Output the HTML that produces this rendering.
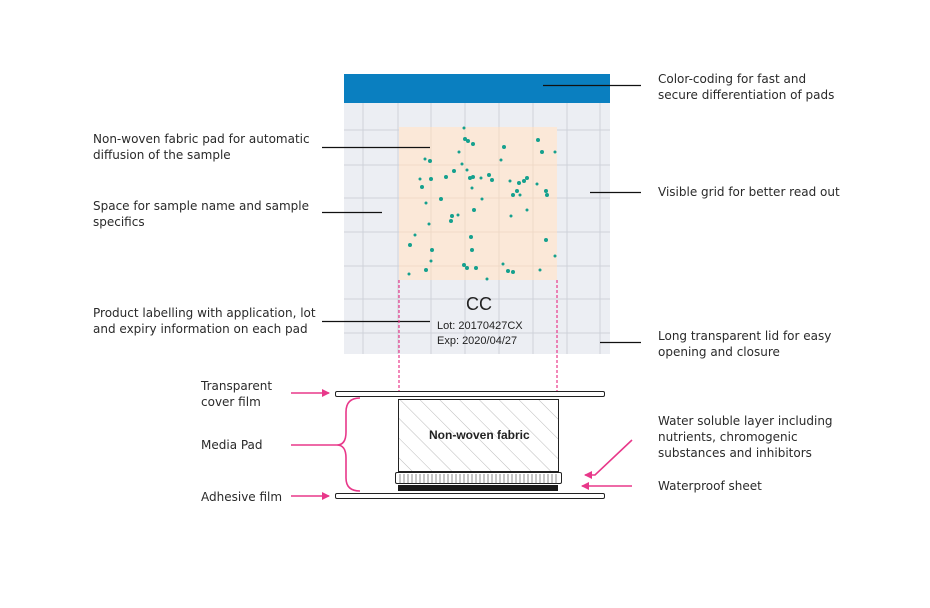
<!DOCTYPE html>
<html><head><meta charset="utf-8"><style>
body{margin:0;background:#fff;width:930px;height:608px;overflow:hidden;position:relative;font-family:"DejaVu Sans","Liberation Sans",sans-serif;}
.t{position:absolute;font-size:12px;line-height:16px;color:#2a2a2a;}
</style></head><body>
<svg width="930" height="608" style="position:absolute;left:0;top:0">
<defs>
<pattern id="hatch" width="14" height="14" patternUnits="userSpaceOnUse" patternTransform="rotate(-45)">
<line x1="0" y1="0" x2="0" y2="14" stroke="#aaa" stroke-width="0.8"/></pattern>
<marker id="ah" markerWidth="8" markerHeight="8" refX="7" refY="4" orient="auto" markerUnits="userSpaceOnUse"><path d="M0,0 L8,4 L0,8 z" fill="#e8388a"/></marker>
</defs>
<rect x="344" y="74" width="266" height="280" fill="#eceef3"/>
<g stroke="#cfd2da" stroke-width="1">
<line x1="363" y1="103" x2="363" y2="354"/><line x1="398" y1="103" x2="398" y2="354"/><line x1="431" y1="103" x2="431" y2="354"/><line x1="465" y1="103" x2="465" y2="354"/><line x1="499" y1="103" x2="499" y2="354"/><line x1="533" y1="103" x2="533" y2="354"/><line x1="567" y1="103" x2="567" y2="354"/><line x1="600" y1="103" x2="600" y2="354"/>
<line x1="344" y1="130" x2="610" y2="130"/><line x1="344" y1="165" x2="610" y2="165"/><line x1="344" y1="198" x2="610" y2="198"/><line x1="344" y1="232" x2="610" y2="232"/><line x1="344" y1="266" x2="610" y2="266"/><line x1="344" y1="299" x2="610" y2="299"/><line x1="344" y1="333" x2="610" y2="333"/>
</g>
<rect x="344" y="74" width="266" height="29" fill="#0a7fc0"/>
<rect x="399" y="127" width="158" height="153" fill="#fbe8d8"/>
<g stroke="#ecd6c4" stroke-width="0.8">
<line x1="431" y1="127" x2="431" y2="280"/><line x1="465" y1="127" x2="465" y2="280"/><line x1="499" y1="127" x2="499" y2="280"/><line x1="533" y1="127" x2="533" y2="280"/>
<line x1="399" y1="165" x2="557" y2="165"/><line x1="399" y1="198" x2="557" y2="198"/><line x1="399" y1="232" x2="557" y2="232"/><line x1="399" y1="266" x2="557" y2="266"/>
</g>
<g fill="#15a08e">
<circle cx="464" cy="128" r="1.5"/><circle cx="465" cy="139" r="2"/><circle cx="468" cy="141" r="2"/><circle cx="473" cy="144" r="2"/><circle cx="538" cy="140" r="2"/><circle cx="504" cy="147" r="2"/><circle cx="542" cy="152" r="2"/><circle cx="555" cy="152" r="1.5"/><circle cx="459" cy="152" r="1.5"/><circle cx="425" cy="159" r="1.5"/><circle cx="430" cy="161" r="2"/><circle cx="501" cy="160" r="1.5"/><circle cx="462" cy="164" r="1.5"/><circle cx="454" cy="171" r="2"/><circle cx="467" cy="170" r="1.5"/><circle cx="446" cy="177" r="2"/><circle cx="470" cy="178" r="2"/><circle cx="473" cy="177" r="2"/><circle cx="481" cy="178" r="1.5"/><circle cx="489" cy="175" r="2"/><circle cx="492" cy="180" r="2"/><circle cx="510" cy="181" r="1.5"/><circle cx="524" cy="181" r="2"/><circle cx="527" cy="178" r="2"/><circle cx="519" cy="183" r="2"/><circle cx="537" cy="184" r="1.5"/><circle cx="420" cy="179" r="1.5"/><circle cx="431" cy="179" r="2"/><circle cx="422" cy="187" r="2"/><circle cx="472" cy="188" r="1.5"/><circle cx="517" cy="191" r="2"/><circle cx="513" cy="195" r="2"/><circle cx="520" cy="195" r="1.5"/><circle cx="546" cy="191" r="2"/><circle cx="547" cy="195" r="2"/><circle cx="441" cy="199" r="2"/><circle cx="426" cy="203" r="1.5"/><circle cx="482" cy="199" r="1.5"/><circle cx="474" cy="210" r="2"/><circle cx="527" cy="210" r="1.5"/><circle cx="452" cy="216" r="2"/><circle cx="458" cy="215" r="1.5"/><circle cx="451" cy="221" r="2"/><circle cx="511" cy="216" r="1.5"/><circle cx="429" cy="224" r="1.5"/><circle cx="415" cy="235" r="1.5"/><circle cx="471" cy="237" r="2"/><circle cx="546" cy="240" r="2"/><circle cx="410" cy="245" r="2"/><circle cx="432" cy="250" r="2"/><circle cx="472" cy="250" r="2"/><circle cx="555" cy="256" r="1.5"/><circle cx="431" cy="261" r="1.5"/><circle cx="464" cy="265" r="2"/><circle cx="467" cy="268" r="2"/><circle cx="476" cy="268" r="2"/><circle cx="426" cy="270" r="2"/><circle cx="503" cy="264" r="1.5"/><circle cx="508" cy="271" r="2"/><circle cx="513" cy="272" r="2"/><circle cx="540" cy="270" r="1.5"/><circle cx="409" cy="274" r="1.5"/><circle cx="487" cy="279" r="1.5"/>
</g>
<g stroke="#111" stroke-width="1.2">
<line x1="543" y1="85.5" x2="641" y2="85.5"/><line x1="322" y1="147.5" x2="430" y2="147.5"/><line x1="322" y1="212.5" x2="382" y2="212.5"/><line x1="590" y1="192.5" x2="641" y2="192.5"/><line x1="322" y1="321.5" x2="430" y2="321.5"/><line x1="600" y1="342.5" x2="641" y2="342.5"/>
</g>
<g stroke="#e8388a" stroke-width="1.2" stroke-dasharray="3,2">
<line x1="399" y1="280" x2="399" y2="391"/><line x1="557" y1="280" x2="557" y2="391"/>
</g>
<rect x="335.5" y="391.5" width="269" height="5" rx="1.5" fill="#fff" stroke="#222"/>
<rect x="398.5" y="399.5" width="160" height="72" fill="url(#hatch)" stroke="#222"/>
<rect x="395.5" y="472.5" width="166" height="11" rx="1.5" fill="#fff" stroke="#222"/>
<g stroke="#444" stroke-width="0.6">
<path d="M400,474v9M404,474v9M408,474v9M412,474v9M416,474v9M420,474v9M424,474v9M428,474v9M432,474v9M436,474v9M440,474v9M444,474v9M448,474v9M452,474v9M456,474v9M460,474v9M464,474v9M468,474v9M472,474v9M476,474v9M480,474v9M484,474v9M488,474v9M492,474v9M496,474v9M500,474v9M504,474v9M508,474v9M512,474v9M516,474v9M520,474v9M524,474v9M528,474v9M532,474v9M536,474v9M540,474v9M544,474v9M548,474v9M552,474v9M556,474v9"/>
</g>
<rect x="398" y="485" width="160" height="6" fill="#1a1a1a"/>
<rect x="335.5" y="493.5" width="269" height="5" rx="1.5" fill="#fff" stroke="#222"/>
<g stroke="#e8388a" stroke-width="1.6" fill="none">
<line x1="291" y1="393" x2="329" y2="393" marker-end="url(#ah)"/>
<line x1="291" y1="496" x2="329" y2="496" marker-end="url(#ah)"/>
<line x1="291" y1="445" x2="337" y2="445"/>
<path d="M360,398 Q346,398 346,412 L346,432 Q346,445 337,445 Q346,445 346,458 L346,478 Q346,491 360,491"/>
<polyline points="632,440 595,475 585,475" marker-end="url(#ah)"/>
<line x1="632" y1="486" x2="582" y2="486" marker-end="url(#ah)"/>
</g>
</svg>
<div class="t" style="left:466px;top:294px;font-size:18px;line-height:20px;color:#222;font-family:'Liberation Sans',sans-serif">CC</div>
<div class="t" style="left:437px;top:318px;font-size:11px;color:#222;font-family:'Liberation Sans',sans-serif">Lot: 20170427CX</div>
<div class="t" style="left:437px;top:333px;font-size:11px;color:#222;font-family:'Liberation Sans',sans-serif">Exp: 2020/04/27</div>
<div class="t" style="left:429px;top:427px;font-weight:bold;font-size:12px;color:#222;font-family:'Liberation Sans',sans-serif">Non-woven fabric</div>
<div class="t" style="left:658px;top:71px">Color-coding for fast and<br>secure differentiation of pads</div>
<div class="t" style="left:93px;top:131px">Non-woven fabric pad for automatic<br>diffusion of the sample</div>
<div class="t" style="left:93px;top:198px">Space for sample name and sample<br>specifics</div>
<div class="t" style="left:658px;top:184px">Visible grid for better read out</div>
<div class="t" style="left:93px;top:305px">Product labelling with application, lot<br>and expiry information on each pad</div>
<div class="t" style="left:658px;top:328px">Long transparent lid for easy<br>opening and closure</div>
<div class="t" style="left:201px;top:378px">Transparent<br>cover film</div>
<div class="t" style="left:201px;top:437px">Media Pad</div>
<div class="t" style="left:201px;top:489px">Adhesive film</div>
<div class="t" style="left:658px;top:413px">Water soluble layer including<br>nutrients, chromogenic<br>substances and inhibitors</div>
<div class="t" style="left:658px;top:478px">Waterproof sheet</div>
</body></html>
